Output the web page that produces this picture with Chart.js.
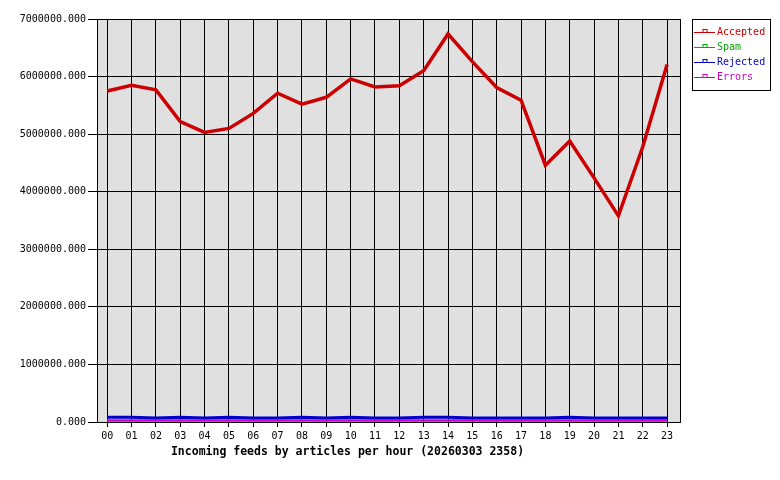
<!DOCTYPE html>
<html>
<head>
<meta charset="utf-8">
<script src="https://cdn.jsdelivr.net/npm/chart.js@4/dist/chart.umd.min.js"></script>
<style>
  html, body { margin: 0; padding: 0; background: #ffffff; }
  #wrap { width: 780px; height: 480px; }
</style>
</head>
<body>
<div id="wrap"><canvas id="feedChart" width="780" height="480"></canvas></div>
<script>
// ===== hourly incoming feed data =====
const hours = ["00","01","02","03","04","05","06","07","08","09","10","11",
               "12","13","14","15","16","17","18","19","20","21","22","23"];

const accepted = [5750000, 5850000, 5770000, 5220000, 5030000, 5100000, 5360000, 5710000,
                  5520000, 5640000, 5960000, 5820000, 5840000, 6100000, 6740000, 6260000,
                  5810000, 5590000, 4460000, 4880000, 4240000, 3580000, 4780000, 6210000];

const spam = [25000, 25000, 25000, 25000, 25000, 25000, 25000, 25000, 25000, 25000, 25000, 25000,
              25000, 25000, 25000, 25000, 25000, 25000, 25000, 25000, 25000, 25000, 25000, 25000];

const rejected = [82000, 82000, 68000, 82000, 68000, 82000, 68000, 68000, 82000, 68000, 82000, 68000,
                  68000, 82000, 82000, 68000, 68000, 68000, 68000, 82000, 68000, 68000, 68000, 68000];

const errors = [25000, 25000, 25000, 25000, 25000, 25000, 25000, 25000, 25000, 25000, 25000, 25000,
                25000, 25000, 25000, 25000, 25000, 25000, 25000, 25000, 25000, 25000, 25000, 25000];

const yTicks = [0, 1000000, 2000000, 3000000, 4000000, 5000000, 6000000, 7000000];
const chartTitle = "Incoming feeds by articles per hour (20260303 2358)";

const MONO = "'DejaVu Sans Mono', 'Liberation Mono', monospace";
Chart.defaults.font.family = MONO;
Chart.defaults.font.size = 10;
Chart.defaults.color = "#000000";

const toPoints = arr => arr.map((v, i) => ({ x: i, y: v }));

// grey plot background + black frame
const plotFrame = {
  id: "plotFrame",
  beforeDraw(chart) {
    const { ctx, chartArea: a } = chart;
    ctx.save();
    ctx.fillStyle = "#e0e0e0";
    ctx.fillRect(a.left, a.top, a.right - a.left, a.bottom - a.top);
    ctx.restore();
  },
  beforeDatasetsDraw(chart) {
    const { ctx, chartArea: a } = chart;
    ctx.save();
    ctx.strokeStyle = "#000000";
    ctx.lineWidth = 1;
    ctx.strokeRect(Math.round(a.left) + 0.5, Math.round(a.top) + 0.5,
                   Math.round(a.right - a.left), Math.round(a.bottom - a.top));
    ctx.restore();
  }
};

// boxed legend on the right, line + small square marker
const boxLegend = {
  id: "boxLegend",
  afterDraw(chart) {
    const { ctx } = chart;
    const x0 = 692, y0 = 19, w = 78, h = 71;
    ctx.save();
    ctx.fillStyle = "#ffffff";
    ctx.fillRect(x0, y0, w, h);
    ctx.strokeStyle = "#000000";
    ctx.lineWidth = 1;
    ctx.strokeRect(x0 + 0.5, y0 + 0.5, w, h);
    ctx.font = "10px " + MONO;
    ctx.textBaseline = "middle";
    chart.data.datasets.forEach((ds, i) => {
      const y = Math.round(y0 + 13 + i * 15) + 0.5;
      ctx.strokeStyle = ds.borderColor;
      ctx.beginPath();
      ctx.moveTo(x0 + 2, y);
      ctx.lineTo(x0 + 23, y);
      ctx.stroke();
      ctx.fillStyle = "#ffffff";
      ctx.fillRect(x0 + 11, y - 3, 4, 3);
      ctx.strokeRect(x0 + 11, y - 3, 4, 3);
      ctx.fillStyle = ds.borderColor;
      ctx.fillText(ds.label, x0 + 25, y);
    });
    ctx.restore();
  }
};

// axis caption under the hour labels
const bottomTitle = {
  id: "bottomTitle",
  afterDraw(chart) {
    const { ctx, chartArea: a } = chart;
    ctx.save();
    ctx.font = "bold 11.5px " + MONO;
    ctx.fillStyle = "#000000";
    ctx.textAlign = "center";
    ctx.textBaseline = "middle";
    ctx.fillText(chartTitle, (a.left + a.right) / 2 - 41, 452);
    ctx.restore();
  }
};

new Chart(document.getElementById("feedChart").getContext("2d"), {
  type: "line",
  data: {
    datasets: [
      { label: "Accepted", data: toPoints(accepted), borderColor: "#cc0000", borderWidth: 3.5, order: 0 },
      { label: "Spam", data: toPoints(spam), borderColor: "#00aa00", borderWidth: 2, order: 3 },
      { label: "Rejected", data: toPoints(rejected), borderColor: "#0000cc", borderWidth: 3, order: 2 },
      { label: "Errors", data: toPoints(errors), borderColor: "#cc00cc", borderWidth: 2, order: 1 }
    ]
  },
  options: {
    responsive: false,
    animation: false,
    layout: { padding: { top: 19, right: 100, bottom: 0, left: 0 } },
    elements: {
      line: { tension: 0, fill: false, borderJoinStyle: "miter" },
      point: { radius: 0, hoverRadius: 0 }
    },
    plugins: {
      legend: { display: false },
      tooltip: { enabled: false }
    },
    scales: {
      x: {
        type: "linear",
        min: -0.42,
        max: 23.53,
        afterBuildTicks: s => { s.ticks = hours.map((h, i) => ({ value: i })); },
        afterFit: s => { s.height = 58; },
        ticks: {
          stepSize: 1,
          padding: 3,
          maxRotation: 0,
          autoSkip: false,
          color: "#000000",
          callback: v => hours[v]
        },
        grid: { color: "#000000", lineWidth: 1, tickLength: 5 },
        border: { color: "#000000", width: 1 }
      },
      y: {
        min: 0,
        max: 7000000,
        afterBuildTicks: s => { s.ticks = yTicks.map(v => ({ value: v })); },
        afterFit: s => { s.width = 97; },
        ticks: {
          padding: 2,
          color: "#000000",
          callback: v => v.toFixed(3)
        },
        grid: { color: "#000000", lineWidth: 1, tickLength: 9 },
        border: { color: "#000000", width: 1 }
      }
    }
  },
  plugins: [plotFrame, boxLegend, bottomTitle]
});
</script>
</body>
</html>
